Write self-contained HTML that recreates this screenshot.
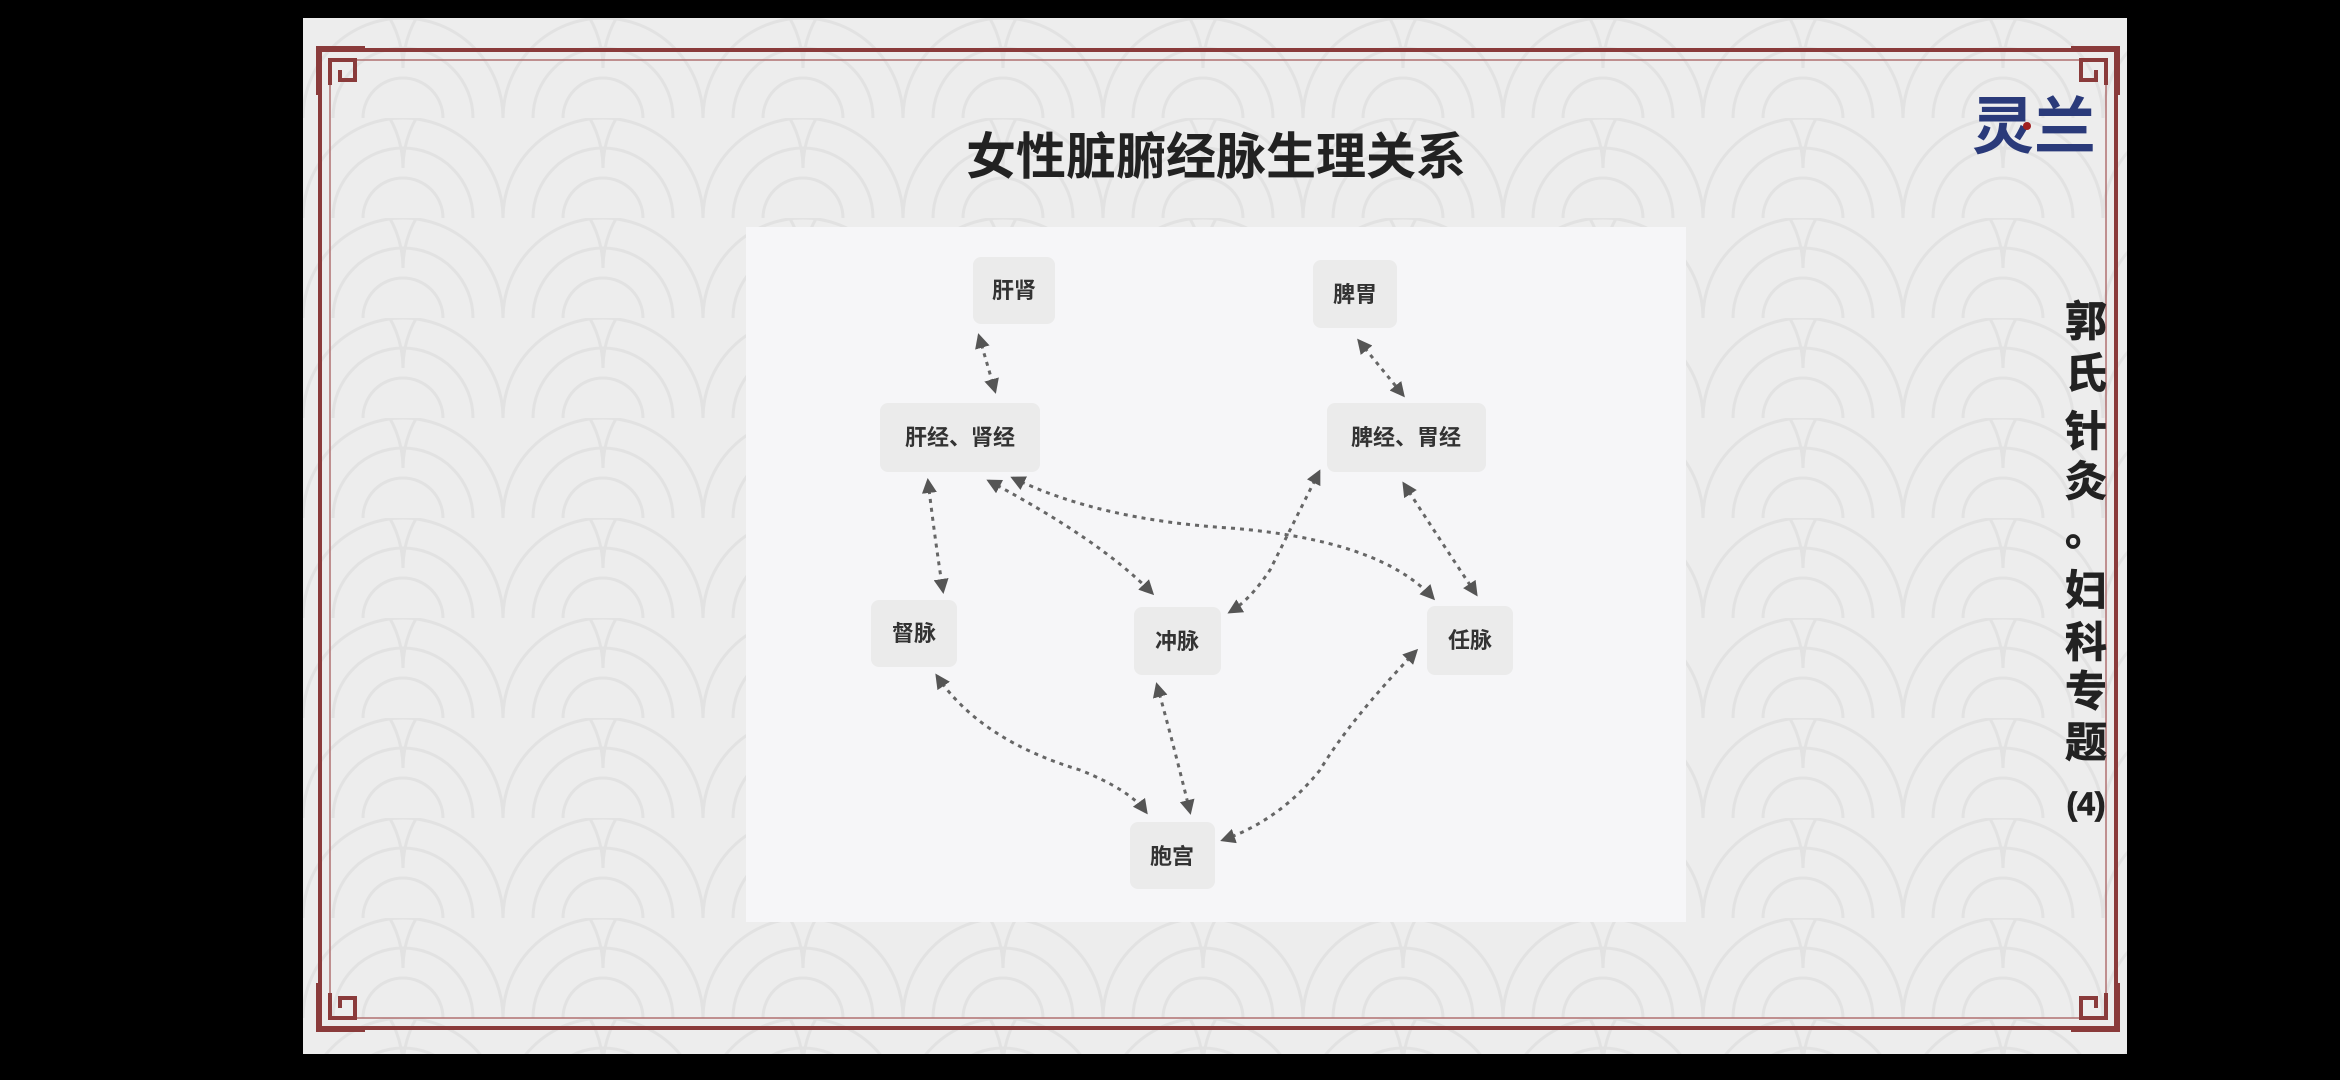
<!DOCTYPE html>
<html><head><meta charset="utf-8"><style>
html,body{margin:0;padding:0;background:#000;width:2340px;height:1080px;overflow:hidden}
svg{display:block}
text{font-family:"Liberation Sans","Noto Sans CJK SC",sans-serif}
</style></head><body>
<svg width="2340" height="1080" viewBox="0 0 2340 1080" xmlns="http://www.w3.org/2000/svg">
<defs>
<pattern id="wave" x="303" y="18" width="200" height="100" patternUnits="userSpaceOnUse">
<rect width="200" height="100" fill="#ededed"/>
<g fill="none" stroke="#e2e2e2" stroke-width="3">
<path d="M0 100 A100 100 0 0 1 200 100"/><path d="M30 100 A70 70 0 0 1 170 100"/><path d="M60 100 A40 40 0 0 1 140 100"/>
<path d="M-100 50 A100 100 0 0 1 100 50"/><path d="M100 50 A100 100 0 0 1 300 50"/>
</g>
</pattern>
<marker id="ah" viewBox="0 0 10 10" refX="8" refY="5" markerWidth="5" markerHeight="5" orient="auto-start-reverse">
<path d="M0 0 L10 5 L0 10 z" fill="#555"/>
</marker>
</defs>
<rect x="303" y="18" width="1824" height="1036" fill="url(#wave)"/>
<g fill="none" stroke="#8a3b3b">
<rect x="320" y="50" width="1796" height="978" stroke-width="4"/>
<rect x="330" y="60" width="1776" height="958" stroke-width="1.5" stroke="#b07070"/>
<g stroke-width="4">
<path d="M318 95 V48 H365 M330 85 V60 H355 V80 H340 V70"/>
<path d="M2118 95 V48 H2071 M2106 85 V60 H2081 V80 H2096 V70"/>
<path d="M318 983 V1030 H365 M330 993 V1018 H355 V998 H340 V1008"/>
<path d="M2118 983 V1030 H2071 M2106 993 V1018 H2081 V998 H2096 V1008"/>
</g>
</g>
<text x="1216" y="174" text-anchor="middle" font-size="50" font-weight="bold" fill="#222">女性脏腑经脉生理关系</text>
<text x="2034" y="148" text-anchor="middle" font-size="62" font-weight="bold" fill="#2a3a7a">灵兰</text>
<circle cx="2027" cy="126" r="4" fill="#a02020"/>
<g font-size="42" fill="#222" text-anchor="middle" font-weight="bold" stroke="#222" stroke-width="0.8" font-family="'Noto Serif CJK SC','Noto Sans CJK SC',serif">
<text x="2086" y="336">郭</text><text x="2086" y="388">氏</text><text x="2086" y="446">针</text><text x="2086" y="496">灸</text><text x="2086" y="545">。</text><text x="2086" y="605">妇</text><text x="2086" y="657">科</text><text x="2086" y="706">专</text><text x="2086" y="757">题</text><text x="2086" y="815" font-size="32">(4)</text>
</g>
<rect x="746" y="227" width="940" height="695" fill="#f6f6f8"/>
<g fill="#ebebeb">
<rect x="973" y="257" width="82" height="67" rx="8"/>
<rect x="1313" y="260" width="84" height="68" rx="8"/>
<rect x="880" y="403" width="160" height="69" rx="8"/>
<rect x="1327" y="403" width="159" height="69" rx="8"/>
<rect x="871" y="600" width="86" height="67" rx="8"/>
<rect x="1134" y="607" width="87" height="68" rx="8"/>
<rect x="1427" y="606" width="86" height="69" rx="8"/>
<rect x="1130" y="822" width="85" height="67" rx="8"/>
</g>
<g font-size="22" fill="#333" text-anchor="middle" font-weight="bold">
<text x="1014" y="298">肝肾</text>
<text x="1355" y="302">脾胃</text>
<text x="960" y="445">肝经、肾经</text>
<text x="1406" y="445">脾经、胃经</text>
<text x="914" y="641">督脉</text>
<text x="1177" y="649">冲脉</text>
<text x="1470" y="648">任脉</text>
<text x="1172" y="864">胞宫</text>
</g>
<g fill="none" stroke="#666" stroke-width="3" stroke-dasharray="4 5" marker-start="url(#ah)" marker-end="url(#ah)">
<path d="M979 336 L995 391"/>
<path d="M1359 341 L1403 395"/>
<path d="M928 481 Q935 540 943 591"/>
<path d="M989 481 Q1100 540 1152 593"/>
<path d="M1013 478 Q1100 520 1230 528 Q1380 540 1433 598"/>
<path d="M1319 472 Q1290 530 1270 570 Q1250 600 1230 612"/>
<path d="M1404 484 Q1440 540 1476 594"/>
<path d="M937 676 Q980 740 1080 770 Q1130 790 1146 812"/>
<path d="M1157 685 Q1175 750 1190 812"/>
<path d="M1416 651 Q1350 720 1320 770 Q1280 820 1223 840"/>
</g>
</svg>
</body></html>
